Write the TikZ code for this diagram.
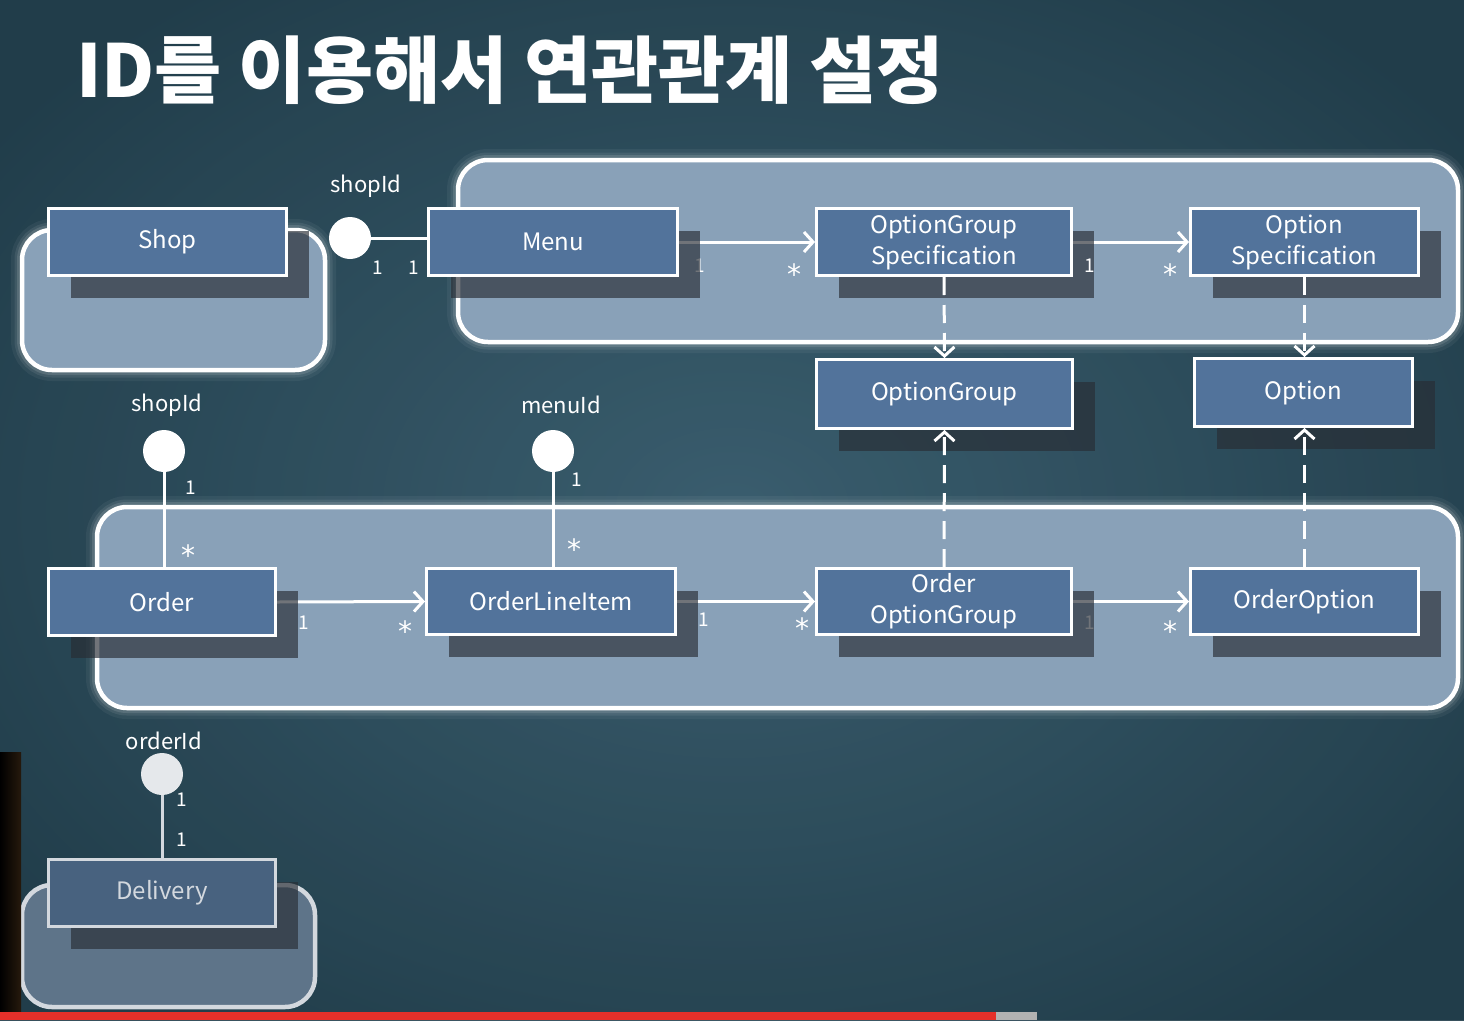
\documentclass[tikz,border=0pt]{standalone}
\usepackage{fontspec}
\setmainfont{Noto Sans CJK KR}
\newfontfamily\djv{DejaVu Sans}
\usetikzlibrary{arrows.meta,shadows}
\definecolor{bgA}{HTML}{213D4A}
\definecolor{bgL}{HTML}{3D6172}
\definecolor{contc}{HTML}{89A1B8}
\definecolor{boxc}{HTML}{52739B}
\definecolor{shadc}{HTML}{282D34}
\definecolor{dimbox}{HTML}{48627F}
\definecolor{dimcont}{HTML}{5E7489}
\definecolor{dimline}{HTML}{D3D8DE}
\definecolor{barred}{HTML}{E5302A}
\pgfdeclarelayer{back}
\pgfdeclarelayer{mid}
\pgfsetlayers{back,mid,main}
\begin{document}
\begin{tikzpicture}[x=1pt,y=-1pt,
  box/.style={draw=white, line width=3pt, fill=boxc, text=white,
    font=\fontsize{24}{31}\selectfont, align=center, inner sep=0pt,
    drop shadow={shadow xshift=22pt, shadow yshift=-22pt, fill=shadc, opacity=.66}},
  dimbox/.style={box, draw=dimline, fill=dimbox, text=dimline},
  cont/.style={draw=white, line width=4.5pt, fill=contc, rounded corners=30pt},
  glow/.style={draw=white, rounded corners=30pt},
  conn/.style={draw=white, line width=3pt},
  arr/.style={conn, -{Straight Barb[length=9pt,width=20pt,line width=3pt]}},
  dep/.style={conn, dash pattern=on 18pt off 10pt, -{Straight Barb[length=9pt,width=20pt,line width=3pt]}},
  lab/.style={text=white, font=\fontsize{22}{24}\selectfont, inner sep=0pt},
  mult/.style={text=white, font=\fontsize{19}{20}\selectfont, inner sep=0pt},
  mstar/.style={text=white, font=\djv\fontsize{28}{28}\selectfont, inner sep=0pt, anchor=base},
  lolli/.style={circle, fill=white, minimum size=42pt, inner sep=0pt}]
\useasboundingbox (0,0) rectangle (1464,1020);
\begin{pgfonlayer}{back}
  \fill[bgA] (0,0) rectangle (1464,1020);
  \shade[inner color=bgL, outer color=bgA, opacity=.9] (-200,-150) rectangle (1664,1170);
  % glows
  \foreach \w/\o in {22/.05,15/.08,10/.12}{
    \draw[glow, line width=\w pt, opacity=\o] (22,230) rectangle (325,370);
    \draw[glow, line width=\w pt, opacity=\o] (458,160) rectangle (1458,342);
    \draw[glow, line width=\w pt, opacity=\o] (97,507) rectangle (1458,708);
  }
  \path[cont] (22,230) rectangle (325,370);
  \path[cont] (458,160) rectangle (1458,342);
  \path[cont] (97,507) rectangle (1458,708);
  \path[cont, draw=dimline, fill=dimcont] (22,885) rectangle (315,1007);
  % video artefacts
  \shade[left color=black, right color=black!80!brown] (0,752) rectangle (21,1012);
  \fill[barred] (0,1012) rectangle (996,1020);
  \fill[gray!60] (996,1012) rectangle (1037,1020);
\end{pgfonlayer}

\node[text=white, font=\bfseries\fontsize{73}{76}\selectfont, anchor=west, inner sep=0pt] (title) at (76,70) {ID를 이용해서 연관관계 설정};

% classes
\node[box, minimum width=238pt, minimum height=67pt] (shop) at (167.5,242) {Shop};
\node[box, minimum width=249pt, minimum height=67pt] (menu) at (553,242) {Menu};
\node[box, minimum width=255pt, minimum height=67pt] (ogs) at (944,242) {OptionGroup\\Specification};
\node[box, minimum width=228pt, minimum height=67pt] (os) at (1304.5,242) {Option\\Specification};
\node[box, minimum width=256pt, minimum height=69pt] (og) at (944.5,394) {OptionGroup};
\node[box, minimum width=218pt, minimum height=68pt] (opt) at (1303.5,392.5) {Option};
\node[box, minimum width=227pt, minimum height=67pt] (order) at (162,602) {Order};
\node[box, minimum width=249pt, minimum height=66pt] (oli) at (551,601.5) {OrderLineItem};
\node[box, minimum width=255pt, minimum height=66pt] (oog) at (944,601.5) {Order\\OptionGroup};
\node[box, minimum width=228pt, minimum height=66pt] (oo) at (1304.5,601.5) {OrderOption};
\node[dimbox, minimum width=227pt, minimum height=67pt] (deliv) at (162,893) {Delivery};

% lollipops
\node[lolli] (l1) at (350,238) {};
\node[lolli] (l2) at (164,451) {};
\node[lolli] (l3) at (553,451) {};
\node[lolli, fill=dimline!60!white] (l4) at (162,774) {};

% dependencies (dashed), drawn above the shadows
\draw[dep] (ogs.south) -- (og.north);
\draw[dep] (os.south) -- (os.south |- opt.north);
\draw[dep] (oog.north) -- (og.south);
\draw[dep] (oo.north) -- (oo.north |- opt.south);
\node[mult] (m5) at (1090,266) {1};

\begin{pgfonlayer}{mid}
  \draw[conn] (l1) -- (l1 -| menu.west);
  \draw[conn] (l2) -- (l2 |- order.north);
  \draw[conn] (l3) -- (l3 |- oli.north);
  \draw[conn, draw=dimline] (l4) -- (l4 |- deliv.north);
  \draw[arr] (menu.east) -- (ogs.west);
  \draw[arr] (ogs.east) -- (os.west);
  \draw[arr] (order.east) -- (oli.west);
  \draw[arr] (oli.east) -- (oog.west);
  \draw[arr] (oog.east) -- (oo.west);

  \node[lab] (t1) at (366,186) {shopId};
  \node[lab] (t2) at (167,405) {shopId};
  \node[lab] (t3) at (561,405) {menuId};
  \node[lab] (t4) at (164,741) {orderId};

  \node[mult] (m1) at (378,268) {1};
  \node[mult] (m2) at (414,268) {1};
  \node[mult] (m3) at (700,266) {1};
  \node[mstar] (m4) at (794,284) {*};
  \node[mstar] (m6) at (1170,284) {*};
  \node[mult] (m7) at (191,488) {1};
  \node[mstar] (m8) at (188,565) {*};
  \node[mult] (m9) at (577,480) {1};
  \node[mstar] (m10) at (574,559) {*};
  \node[mult] (m11) at (304,623) {1};
  \node[mstar] (m12) at (405,641) {*};
  \node[mult] (m13) at (704,620) {1};
  \node[mstar] (m14) at (802,638) {*};
  \node[mult] (m15) at (1090,623) {1};
  \node[mstar] (m16) at (1170,641) {*};
  \node[mult] (m17) at (182,800) {1};
  \node[mult] (m18) at (182,840) {1};
\end{pgfonlayer}
\end{tikzpicture}
\end{document}
